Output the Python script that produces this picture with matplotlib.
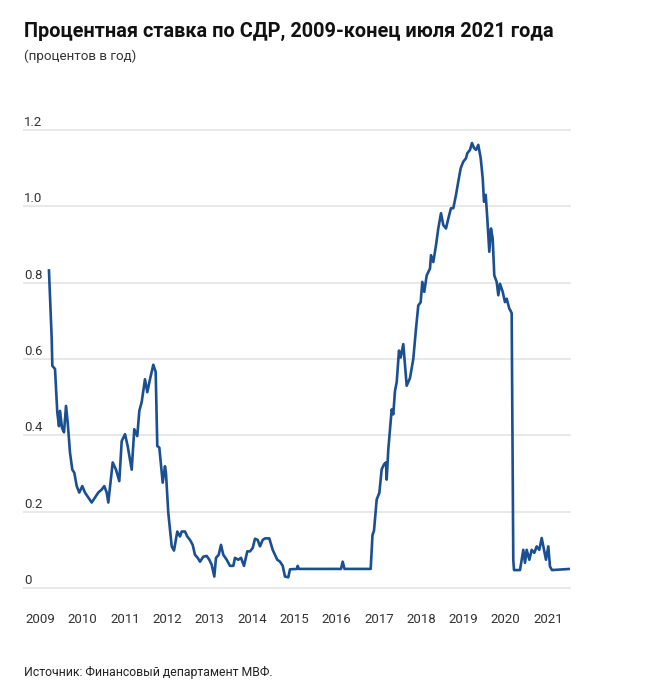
import matplotlib
matplotlib.use("Agg")
import matplotlib.pyplot as plt
from matplotlib.transforms import ScaledTranslation

plt.rcParams['font.family'] = ['Roboto', 'DejaVu Sans']

title = "Процентная ставка по СДР, 2009-конец июля 2021 года"
subtitle = "(процентов в год)"
source = "Источник: Финансовый департамент МВФ."

years = list(range(2009, 2022))
year_labels = [str(y) for y in years]
y_ticks = [0, 0.2, 0.4, 0.6, 0.8, 1.0, 1.2]
y_tick_labels = ["0", "0.2", "0.4", "0.6", "0.8", "1.0", "1.2"]

# decimal-year dates and SDR interest rate (percent per year)
dates = [
    2009.20, 2009.265, 2009.28, 2009.343, 2009.397, 2009.437, 2009.461, 2009.508,
    2009.556, 2009.603, 2009.643, 2009.697, 2009.752, 2009.799, 2009.856, 2009.917,
    2009.988, 2010.052, 2010.130, 2010.210, 2010.288, 2010.366, 2010.447, 2010.508,
    2010.565, 2010.603, 2010.707, 2010.785, 2010.863, 2010.920, 2010.998, 2011.061,
    2011.156, 2011.217, 2011.288, 2011.336, 2011.392, 2011.470, 2011.525, 2011.589,
    2011.667, 2011.723, 2011.761, 2011.809, 2011.889, 2011.943, 2011.967, 2012.021,
    2012.102, 2012.156, 2012.234, 2012.298, 2012.338, 2012.416, 2012.470, 2012.534,
    2012.598, 2012.652, 2012.716, 2012.771, 2012.849, 2012.929, 2012.991, 2013.047,
    2013.109, 2013.149, 2013.213, 2013.267, 2013.322, 2013.402, 2013.480, 2013.558,
    2013.598, 2013.676, 2013.740, 2013.811, 2013.889, 2013.953, 2014.017, 2014.071,
    2014.135, 2014.189, 2014.253, 2014.307, 2014.409, 2014.489, 2014.544, 2014.598,
    2014.662, 2014.726, 2014.780, 2014.858, 2014.898, 2015.064, 2015.080, 2015.110,
    2016.104, 2016.144, 2016.187, 2016.806, 2016.849, 2016.884, 2016.948, 2017.010,
    2017.066, 2017.121, 2017.168, 2017.184, 2017.222, 2017.303, 2017.340, 2017.381,
    2017.421, 2017.475, 2017.515, 2017.577, 2017.657, 2017.735, 2017.813, 2017.877,
    2017.931, 2017.988, 2018.026, 2018.073, 2018.130, 2018.208, 2018.232, 2018.286,
    2018.350, 2018.404, 2018.468, 2018.522, 2018.586, 2018.641, 2018.704, 2018.759,
    2018.823, 2018.877, 2018.934, 2018.995, 2019.059, 2019.090, 2019.154, 2019.201,
    2019.248, 2019.296, 2019.350, 2019.407, 2019.454, 2019.485, 2019.525, 2019.563,
    2019.610, 2019.650, 2019.690, 2019.728, 2019.785, 2019.823, 2019.863, 2019.927,
    2019.981, 2020.021, 2020.083, 2020.111, 2020.139, 2020.177, 2020.194, 2020.336,
    2020.414, 2020.454, 2020.494, 2020.556, 2020.612, 2020.674, 2020.730, 2020.792,
    2020.849, 2020.903, 2020.950, 2021.005, 2021.045, 2021.092, 2021.518,
]
rates = [
    0.832, 0.653, 0.582, 0.574, 0.460, 0.424, 0.464, 0.420,
    0.408, 0.477, 0.434, 0.355, 0.310, 0.302, 0.267, 0.250,
    0.267, 0.250, 0.237, 0.224, 0.237, 0.250, 0.258, 0.267,
    0.250, 0.224, 0.329, 0.310, 0.280, 0.385, 0.403, 0.372,
    0.310, 0.416, 0.398, 0.464, 0.487, 0.547, 0.513, 0.547,
    0.585, 0.566, 0.372, 0.368, 0.276, 0.319, 0.300, 0.197,
    0.109, 0.098, 0.148, 0.135, 0.148, 0.148, 0.135, 0.126,
    0.113, 0.087, 0.079, 0.069, 0.082, 0.084, 0.074, 0.061,
    0.030, 0.079, 0.087, 0.113, 0.087, 0.074, 0.058, 0.058,
    0.079, 0.074, 0.079, 0.058, 0.096, 0.096, 0.105, 0.129,
    0.126, 0.109, 0.126, 0.130, 0.130, 0.100, 0.087, 0.074,
    0.069, 0.058, 0.030, 0.028, 0.049, 0.050, 0.058, 0.050,
    0.050, 0.069, 0.050, 0.050, 0.139, 0.150, 0.232, 0.249,
    0.311, 0.324, 0.329, 0.284, 0.363, 0.468, 0.455, 0.517,
    0.539, 0.622, 0.604, 0.639, 0.530, 0.550, 0.600, 0.679,
    0.740, 0.749, 0.802, 0.776, 0.819, 0.837, 0.872, 0.854,
    0.898, 0.942, 0.982, 0.951, 0.942, 0.968, 0.995, 0.995,
    1.030, 1.065, 1.100, 1.117, 1.126, 1.139, 1.148, 1.166,
    1.153, 1.148, 1.161, 1.126, 1.074, 1.012, 1.030, 0.968,
    0.881, 0.942, 0.916, 0.819, 0.802, 0.767, 0.797, 0.776,
    0.749, 0.758, 0.732, 0.727, 0.720, 0.074, 0.047, 0.047,
    0.100, 0.066, 0.100, 0.074, 0.100, 0.092, 0.109, 0.100,
    0.131, 0.100, 0.074, 0.109, 0.056, 0.047, 0.050,
]

W, H = 652, 686
fig = plt.figure(figsize=(W / 100, H / 100), dpi=100)
fig.patch.set_facecolor("white")

left_px, right_px, top_px, bottom_px = 24, 570, 130, 588
ax = fig.add_axes([left_px / W, 1 - bottom_px / H, (right_px - left_px) / W, (bottom_px - top_px) / H])

ax.plot(dates, rates, color="#1a4f91", linewidth=1.9, solid_joinstyle="round", zorder=3)

ax.set_xlim(2008.61, 2021.518)
ax.set_ylim(0, 1.2)
for s in ax.spines.values():
    s.set_visible(False)

ax.set_yticks(y_ticks)
ax.set_yticklabels(y_tick_labels)
ax.yaxis.grid(True, color="#e8e8e8", linewidth=1.4)
for gl in ax.get_ygridlines():
    gl.set_clip_on(False)
ax.set_axisbelow(True)
ax.tick_params(axis="y", length=0, pad=0, labelsize=9.5, labelcolor="#333333")
offset = ScaledTranslation(0, 1 / 100, fig.dpi_scale_trans)
for lab in ax.get_yticklabels():
    lab.set_horizontalalignment("left")
    lab.set_verticalalignment("bottom")
    lab.set_transform(lab.get_transform() + offset)

ax.set_xticks(years)
ax.set_xticklabels(year_labels)
ax.tick_params(axis="x", length=0, pad=18, labelsize=9.5, labelcolor="#333333")

fig.text(24 / W, 1 - 31 / H, title, fontsize=14.3, fontweight="bold", color="#111111",
         ha="left", va="center")
fig.text(24 / W, 1 - 56 / H, subtitle, fontsize=9.6, color="#333333", ha="left", va="center")
fig.text(24 / W, 1 - 672 / H, source, fontsize=8.8, color="#222222", ha="left", va="center")

fig.savefig("out.png", dpi=100, facecolor="white")
